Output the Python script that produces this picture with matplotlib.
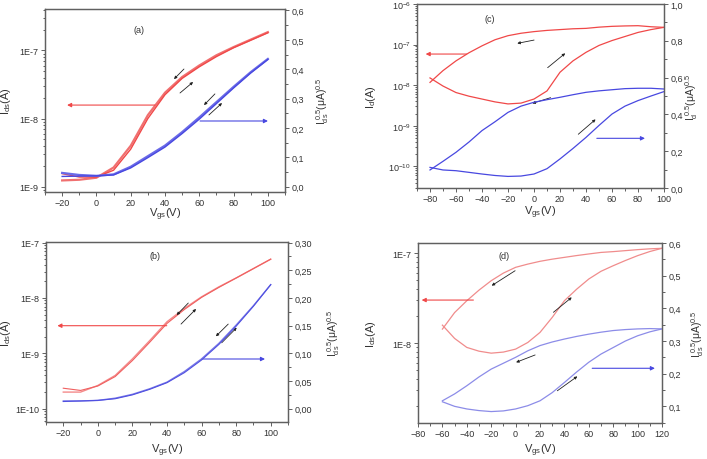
import numpy as np
import matplotlib
matplotlib.use('Agg')
import matplotlib.pyplot as plt
from matplotlib.ticker import FixedLocator, FuncFormatter, MultipleLocator, LogLocator, NullFormatter

plt.rcParams['font.family'] = ['Liberation Sans', 'DejaVu Sans']
plt.rcParams['mathtext.default'] = 'regular'

# ---- panel (a) ----
a_vg = [-20, -10, 0, 10, 20, 30, 40, 50, 60, 70, 80, 90, 100]
a_red1_log = [-8.91, -8.90, -8.87, -8.72, -8.40, -7.95, -7.62, -7.39, -7.22, -7.07, -6.95, -6.84, -6.73]
a_red2_log = [-8.81, -8.86, -8.86, -8.76, -8.45, -8.00, -7.65, -7.41, -7.24, -7.09, -6.96, -6.85, -6.74]
a_blue1 = [0.047, 0.040, 0.037, 0.042, 0.068, 0.104, 0.140, 0.186, 0.236, 0.288, 0.340, 0.390, 0.435]
a_blue2 = [0.035, 0.036, 0.037, 0.040, 0.064, 0.099, 0.135, 0.181, 0.230, 0.283, 0.336, 0.387, 0.433]

# ---- panel (b) ----
b_vg = [-20, -10, 0, 10, 20, 30, 40, 50, 60, 70, 80, 90, 100]
b_red1_log = [-9.70, -9.70, -9.58, -9.40, -9.10, -8.77, -8.43, -8.19, -7.98, -7.80, -7.64, -7.47, -7.30]
b_red2_log = [-9.63, -9.67, -9.59, -9.42, -9.13, -8.80, -8.46, -8.21, -7.99, -7.81, -7.64, -7.47, -7.30]
b_blue1 = [0.014, 0.014, 0.015, 0.019, 0.026, 0.036, 0.048, 0.067, 0.090, 0.118, 0.151, 0.186, 0.224]
b_blue2 = [0.013, 0.014, 0.015, 0.018, 0.025, 0.035, 0.047, 0.065, 0.088, 0.116, 0.149, 0.185, 0.224]

# ---- panel (c) ----
c_vg_rev = [100, 90, 80, 70, 60, 50, 40, 30, 20, 10, 0, -10, -20, -30, -40, -50, -60, -70, -80]
c_red_rev_log = [-6.575, -6.56, -6.534, -6.54, -6.55, -6.57, -6.60, -6.61, -6.63, -6.65, -6.68,
                 -6.72, -6.78, -6.88, -7.03, -7.20, -7.40, -7.64, -7.93]
c_blue_rev = [0.538, 0.542, 0.542, 0.540, 0.534, 0.528, 0.520, 0.507, 0.493, 0.480, 0.466,
              0.445, 0.411, 0.360, 0.312, 0.250, 0.194, 0.145, 0.098]
c_vg_fwd = [-80, -70, -60, -50, -40, -30, -20, -10, 0, 10, 20, 30, 40, 50, 60, 70, 80, 90, 100]
c_red_fwd_log = [-7.82, -8.02, -8.18, -8.27, -8.34, -8.41, -8.46, -8.44, -8.34, -8.14, -7.68,
                 -7.40, -7.19, -7.02, -6.90, -6.80, -6.70, -6.63, -6.575]
c_blue_fwd = [0.112, 0.098, 0.094, 0.085, 0.076, 0.068, 0.063, 0.065, 0.076, 0.105, 0.158,
              0.215, 0.275, 0.340, 0.402, 0.445, 0.475, 0.500, 0.524]

# ---- panel (d) ----
d_vg_rev = [120, 110, 100, 90, 80, 70, 60, 50, 40, 30, 20, 10, 0, -10, -20, -30, -40, -50, -60]
d_red_rev_log = [-6.944, -6.95, -6.959, -6.97, -6.981, -6.99, -7.007, -7.025, -7.045, -7.065,
                 -7.089, -7.12, -7.156, -7.22, -7.305, -7.41, -7.528, -7.66, -7.844]
d_blue_rev = [0.337, 0.338, 0.337, 0.335, 0.332, 0.327, 0.321, 0.314, 0.306, 0.297, 0.286,
              0.270, 0.250, 0.232, 0.214, 0.190, 0.163, 0.138, 0.117]
d_vg_fwd = [-60, -50, -40, -30, -20, -10, 0, 10, 20, 30, 40, 50, 60, 70, 80, 90, 100, 110, 120]
d_red_fwd_log = [-7.80, -7.948, -8.048, -8.09, -8.112, -8.10, -8.067, -7.993, -7.881, -7.714,
                 -7.528, -7.40, -7.286, -7.20, -7.138, -7.08, -7.026, -6.98, -6.944]
d_blue_fwd = [0.114, 0.100, 0.092, 0.087, 0.084, 0.086, 0.092, 0.102, 0.117, 0.142, 0.173,
              0.205, 0.235, 0.260, 0.280, 0.300, 0.316, 0.328, 0.337]

W, H = 707, 460
fig = plt.figure(figsize=(W / 100, H / 100), dpi=100)

def box(l, r, t, b):
    return [l / W, (H - b) / H, (r - l) / W, (b - t) / H]

spine_c = '#606060'
txt_c = '#333333'
fs_tick = 6.5
fs_lab = 8

red = '#f04848'
blue = '#4848e0'
black = '#222222'

def style(ax, ax2):
    for a in (ax, ax2):
        for s in a.spines.values():
            s.set_color(spine_c)
            s.set_linewidth(0.9)
        a.tick_params(which='both', direction='out', colors=spine_c, labelcolor=txt_c,
                      labelsize=fs_tick, width=0.7, pad=1.5)
        a.tick_params(which='major', length=3)
        a.tick_params(which='minor', length=1.8)
    ax.yaxis.set_minor_locator(LogLocator(base=10, subs=np.arange(2, 10)))
    ax.yaxis.set_minor_formatter(NullFormatter())
    ax.xaxis.set_minor_locator(MultipleLocator(10))
    ax.xaxis.set_major_locator(MultipleLocator(20))

def labels(ax, ax2, xl, yl, yr, sub='ds'):
    # label coords: top edge of x label, right edge of left label, left edge of right label
    ax.set_xlabel(r'$V_{gs}(V)$', fontsize=fs_lab, color=txt_c)
    ax.set_ylabel(r'$I_{%s}(A)$' % sub, fontsize=fs_lab, color=txt_c)
    ax2.set_ylabel(r'$I_{%s}^{\ 0.5}(\mu A)^{0.5}$' % sub, fontsize=7.5, color=txt_c)
    ax.xaxis.set_label_coords(0.5, xl)
    ax.yaxis.set_label_coords(yl, 0.5)
    ax2.yaxis.set_label_coords(yr, 0.5)

def arrow(ax, x0, y0, x1, y1, color, lw=0.8, ms=6):
    ax.annotate('', xy=(x1, y1), xytext=(x0, y0), xycoords='axes fraction',
                arrowprops=dict(arrowstyle='-|>', color=color, lw=lw, mutation_scale=ms,
                                shrinkA=0, shrinkB=0))

def e_fmt(v, p):
    return '1E%d' % int(round(np.log10(v)))

def pow_fmt(v, p):
    return r'$10^{%d}$' % int(round(np.log10(v)))

def comma(nd):
    return FuncFormatter(lambda v, p: ('%.*f' % (nd, v)).replace('.', ','))

# ---------- (a) ----------
ax = fig.add_axes(box(45, 285, 10, 193))
ax2 = ax.twinx()
ax.plot(a_vg, 10 ** np.array(a_red1_log), color='#f07070', lw=1.6)
ax.plot(a_vg, 10 ** np.array(a_red2_log), color=red, lw=1.0)
ax2.plot(a_vg, a_blue1, color='#6a6ae8', lw=1.6)
ax2.plot(a_vg, a_blue2, color=blue, lw=1.0)
ax.set_yscale('log')
ax.set_xlim(-30, 110)
ax.set_ylim(10 ** -9.08, 10 ** -6.39)
ax2.set_ylim(-0.018, 0.605)
ax.yaxis.set_major_locator(FixedLocator([1e-9, 1e-8, 1e-7]))
ax.yaxis.set_major_formatter(FuncFormatter(e_fmt))
ax2.yaxis.set_major_locator(MultipleLocator(0.1))
ax2.yaxis.set_minor_locator(MultipleLocator(0.05))
ax2.yaxis.set_major_formatter(comma(1))
style(ax, ax2)
labels(ax, ax2, -0.077, -0.133, 1.12)
ax.text(0.39, 0.89, '(a)', transform=ax.transAxes, fontsize=6.5, color=txt_c, ha='center', va='center')
arrow(ax, 0.458, 0.475, 0.092, 0.475, red)
arrow(ax, 0.646, 0.388, 0.929, 0.388, blue)
arrow(ax, 0.579, 0.672, 0.5375, 0.617, black, 0.6, 4)
arrow(ax, 0.5625, 0.541, 0.617, 0.601, black, 0.6, 4)
arrow(ax, 0.708, 0.536, 0.6625, 0.475, black, 0.6, 4)
arrow(ax, 0.683, 0.421, 0.7375, 0.486, black, 0.6, 4)

# ---------- (b) ----------
ax = fig.add_axes(box(46, 288, 243, 423))
ax2 = ax.twinx()
ax.plot(b_vg, 10 ** np.array(b_red1_log), color='#f48a8a', lw=1.0)
ax.plot(b_vg, 10 ** np.array(b_red2_log), color='#f06060', lw=0.8)
ax2.plot(b_vg, b_blue1, color='#7a7ae8', lw=1.0)
ax2.plot(b_vg, b_blue2, color='#5050e0', lw=0.8)
ax.set_yscale('log')
ax.set_xlim(-30, 110)
ax.set_ylim(10 ** -10.24, 10 ** -6.99)
ax2.set_ylim(-0.024, 0.301)
ax.yaxis.set_major_locator(FixedLocator([1e-10, 1e-9, 1e-8, 1e-7]))
ax.yaxis.set_major_formatter(FuncFormatter(e_fmt))
ax2.yaxis.set_major_locator(MultipleLocator(0.05))
ax2.yaxis.set_minor_locator(MultipleLocator(0.025))
ax2.yaxis.set_major_formatter(comma(2))
style(ax, ax2)
labels(ax, ax2, -0.111, -0.136, 1.153)
ax.text(0.45, 0.924, '(b)', transform=ax.transAxes, fontsize=6.5, color=txt_c, ha='center', va='center')
arrow(ax, 0.499, 0.535, 0.047, 0.535, red)
arrow(ax, 0.643, 0.35, 0.905, 0.35, blue)
arrow(ax, 0.588, 0.661, 0.540, 0.594, black, 0.6, 4)
arrow(ax, 0.558, 0.544, 0.620, 0.628, black, 0.6, 4)
arrow(ax, 0.753, 0.544, 0.702, 0.476, black, 0.6, 4)
arrow(ax, 0.726, 0.440, 0.788, 0.524, black, 0.6, 4)

# ---------- (c) ----------
ax = fig.add_axes(box(417, 664, 5, 189))
ax2 = ax.twinx()
ax.plot(c_vg_rev, 10 ** np.array(c_red_rev_log), color=red, lw=0.9)
ax.plot(c_vg_fwd, 10 ** np.array(c_red_fwd_log), color=red, lw=0.9)
ax2.plot(c_vg_rev, c_blue_rev, color=blue, lw=0.9)
ax2.plot(c_vg_fwd, c_blue_fwd, color=blue, lw=0.9)
ax.set_yscale('log')
ax.set_xlim(-90, 100)
ax.set_ylim(10 ** -10.53, 1e-6)
ax2.set_ylim(0, 1.0)
ax.yaxis.set_major_locator(FixedLocator([1e-10, 1e-9, 1e-8, 1e-7, 1e-6]))
ax.yaxis.set_major_formatter(FuncFormatter(pow_fmt))
ax2.yaxis.set_major_locator(MultipleLocator(0.2))
ax2.yaxis.set_minor_locator(MultipleLocator(0.1))
ax2.yaxis.set_major_formatter(comma(1))
style(ax, ax2)
labels(ax, ax2, -0.087, -0.158, 1.078, sub='d')
ax.text(0.296, 0.92, '(c)', transform=ax.transAxes, fontsize=6.5, color=txt_c, ha='center', va='center')
arrow(ax, 0.201, 0.728, 0.035, 0.728, red)
arrow(ax, 0.728, 0.27, 0.923, 0.27, blue)
arrow(ax, 0.474, 0.804, 0.406, 0.786, black, 0.6, 4)
arrow(ax, 0.529, 0.654, 0.600, 0.732, black, 0.6, 4)
arrow(ax, 0.541, 0.491, 0.467, 0.460, black, 0.6, 4)
arrow(ax, 0.653, 0.292, 0.723, 0.373, black, 0.6, 4)

# ---------- (d) ----------
ax = fig.add_axes(box(418, 662, 244, 424))
ax2 = ax.twinx()
ax.plot(d_vg_rev, 10 ** np.array(d_red_rev_log), color='#f08c8c', lw=0.9)
ax.plot(d_vg_fwd, 10 ** np.array(d_red_fwd_log), color='#f08c8c', lw=0.9)
ax2.plot(d_vg_rev, d_blue_rev, color='#8c8ce8', lw=0.9)
ax2.plot(d_vg_fwd, d_blue_fwd, color='#8c8ce8', lw=0.9)
ax.set_yscale('log')
ax.set_xlim(-80, 120)
ax.set_ylim(10 ** -8.89, 10 ** -6.885)
ax2.set_ylim(0.049, 0.6)
ax.yaxis.set_major_locator(FixedLocator([1e-8, 1e-7]))
ax.yaxis.set_major_formatter(FuncFormatter(e_fmt))
ax2.yaxis.set_major_locator(MultipleLocator(0.1))
ax2.yaxis.set_minor_locator(MultipleLocator(0.05))
ax2.yaxis.set_major_formatter(comma(1))
style(ax, ax2)
labels(ax, ax2, -0.106, -0.164, 1.112)
ax.text(0.352, 0.93, '(d)', transform=ax.transAxes, fontsize=6.5, color=txt_c, ha='center', va='center')
arrow(ax, 0.227, 0.683, 0.015, 0.683, red)
arrow(ax, 0.714, 0.304, 0.971, 0.304, blue)
arrow(ax, 0.398, 0.846, 0.302, 0.763, black, 0.6, 4)
arrow(ax, 0.555, 0.615, 0.630, 0.698, black, 0.6, 4)
arrow(ax, 0.480, 0.378, 0.402, 0.337, black, 0.6, 4)
arrow(ax, 0.571, 0.179, 0.653, 0.259, black, 0.6, 4)

fig.savefig('out.png', dpi=100)
